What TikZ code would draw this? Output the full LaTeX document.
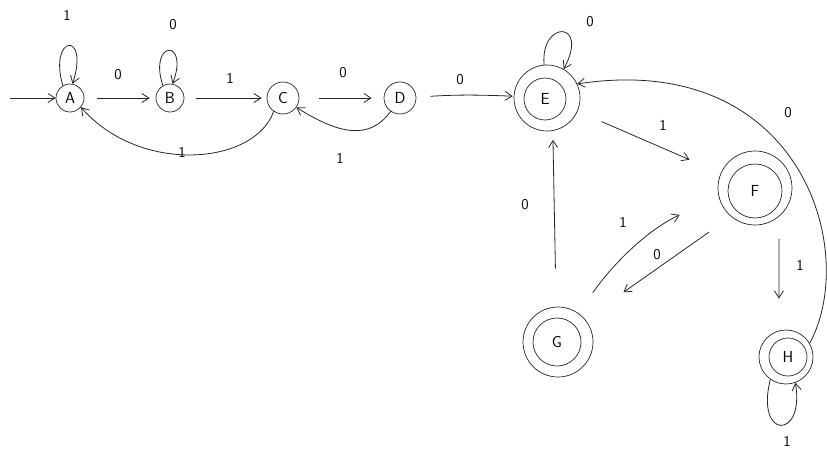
\documentclass[tikz,border=0pt]{standalone}
\usetikzlibrary{arrows.meta}
\begin{document}
\begin{tikzpicture}[x=1pt,y=1pt,
  st/.style={circle,draw=black!85,line width=0.7pt,minimum size=#1,inner sep=0pt,font=\fontsize{16}{16}\selectfont\sffamily},
  ring/.style={circle,draw=black!85,line width=0.7pt,minimum size=#1,inner sep=0pt},
  tr/.style={draw=black!85,line width=0.8pt,-{Straight Barb[length=7pt,width=9pt]}},
  lb/.style={font=\fontsize{15}{15}\selectfont\sffamily,inner sep=0pt}]
\useasboundingbox (0,0) rectangle (827,-452);
% states
\node[st=28pt] (A) at (70,-98) {A};
\node[st=28pt] (B) at (170,-98) {B};
\node[st=32pt] (C) at (283,-98) {C};
\node[st=32pt] (D) at (400,-98) {D};
\node[st=42pt] (E) at (545,-99) {E};
\node[ring=66pt] (Eo) at (547,-98) {};
\node[st=54pt] (F) at (755,-191) {F};
\node[ring=74pt] (Fo) at (755,-188) {};
\node[st=48pt] (G) at (557,-342) {G};
\node[ring=70pt] (Go) at (558,-342) {};
\node[st=38pt] (H) at (788,-357) {H};
\node[ring=54pt] (Ho) at (786,-357) {};
\coordinate (s) at (10,-98);
% start
\draw[tr] (s) -- (A);
% self loops
\draw[tr] (A.120) .. controls (48,-35) and (90,-30) .. (A.80);
\draw[tr] (B.120) .. controls (148,-40) and (190,-38) .. (B.80);
\draw[tr] (Eo.95) .. controls (540,-20) and (590,-20) .. (Eo.60);
\draw[tr] (Ho.-125) .. controls (755,-440) and (805,-440) .. (Ho.-70);
% forward edges
\draw[tr,shorten <=13pt,shorten >=6pt] (A) -- (B);
\draw[tr,shorten <=12pt,shorten >=5pt] (B) -- (C);
\draw[tr,shorten <=20pt,shorten >=12pt] (C) -- (D);
\draw[tr,shorten <=14pt,shorten >=1pt] (D) to[bend left=3] (Eo);
\draw[tr,shorten <=26pt,shorten >=34pt] (Eo) -- (Fo);
% back edges
\draw[tr] (C.235) .. controls (255,-165) and (140,-175) .. (A.-40);
\draw[tr] (D.235) .. controls (370,-140) and (340,-135) .. (C.-35);
\draw[tr,shorten <=38pt,shorten >=9pt] (Go.93) -- (Eo.-80);
\draw[tr,shorten <=25pt,shorten >=43pt] (Go.55) to[bend left=15] (Fo.194);
\draw[tr,shorten <=27pt,shorten >=47pt] (Fo.230) -- (Go.40);
\draw[tr,shorten <=22pt,shorten >=32pt] (Fo.-50) -- (Ho.105);
\draw[tr] (Ho.30) .. controls (860,-250) and (800,-50) .. (Eo.25);
% labels
\node[lb] (l1) at (67,-15) {1};
\node[lb] (l2) at (173,-25) {0};
\node[lb] (l3) at (118,-75) {0};
\node[lb] (l4) at (230,-78) {1};
\node[lb] (l5) at (182,-152) {1};
\node[lb] (l6) at (343,-73) {0};
\node[lb] (l7) at (340,-158) {1};
\node[lb] (l8) at (460,-80) {0};
\node[lb] (l9) at (590,-22) {0};
\node[lb] (l10) at (663,-125) {1};
\node[lb] (l11) at (788,-113) {0};
\node[lb] (l12) at (525,-205) {0};
\node[lb] (l13) at (623,-222) {1};
\node[lb] (l14) at (657,-255) {0};
\node[lb] (l15) at (800,-265) {1};
\node[lb] (l16) at (787,-441) {1};
\end{tikzpicture}
\end{document}
